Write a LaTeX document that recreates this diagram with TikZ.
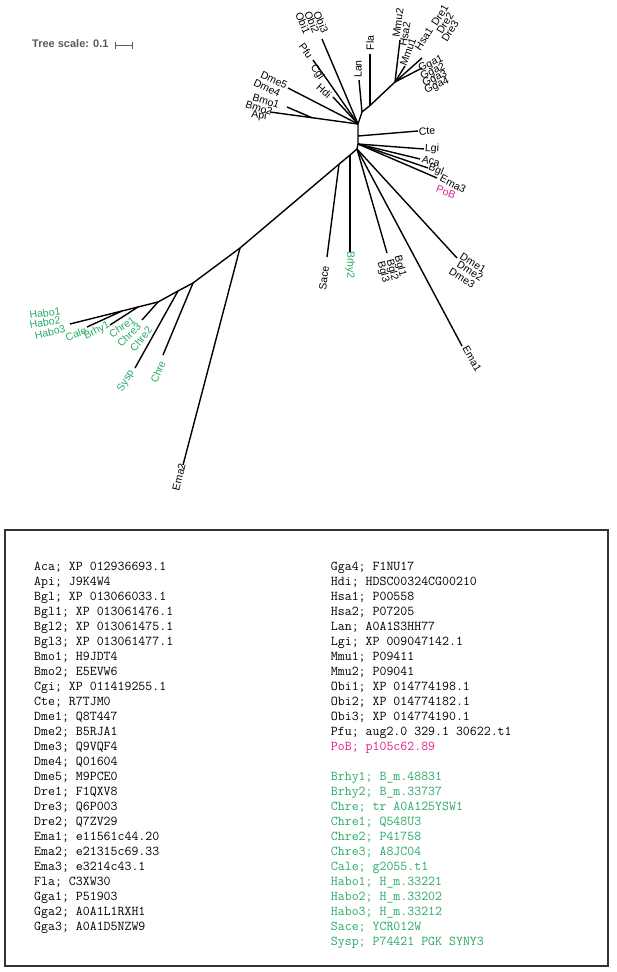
\documentclass[tikz,border=0pt]{standalone}
\usepackage{fontspec}
\newfontfamily\treefont{Liberation Sans}
\definecolor{treegreen}{RGB}{40,170,100}
\definecolor{pobpink}{RGB}{228,30,140}
\definecolor{scalegray}{RGB}{90,90,90}
\begin{document}
\begin{tikzpicture}[x=1pt,y=-1pt]
	\tikzset{branch/.style={line width=1.4pt, line join=round},
		lbl/.style={font=\treefont\fontsize{10.5}{10}\selectfont, inner sep=0pt},
		glbl/.style={lbl, text=treegreen},
		legtxt/.style={font=\ttfamily\fontsize{13.5}{15}\selectfont, inner sep=0pt, anchor=base west}}
	\useasboundingbox (0,0) rectangle (617,972);
	% tree scale
	\node[font=\treefont\bfseries\fontsize{11}{11}\selectfont, text=scalegray, anchor=west, inner sep=0pt] (scale) at (32,44) {Tree scale: 0.1};
	\coordinate (sbL) at (115,45.5);
	\coordinate (sbR) at (133,45.5);
	\draw[scalegray, line width=0.8pt, |-|] (sbL) -- (sbR);
	% inner nodes
	\coordinate (c1) at (358,124);
	\coordinate (cCte) at (358,136);
	\coordinate (c2) at (358,144);
	\coordinate (r) at (357,149);
	\coordinate (jBmo) at (312,117.7);
	\coordinate (jLan) at (362,112);
	\coordinate (jFla) at (370,105.5);
	\coordinate (v) at (395,82);
	\coordinate (jBrhy2) at (350,155);
	\coordinate (jSace) at (339,164.2);
	\coordinate (jEma2) at (240,248);
	\coordinate (jChre) at (193,283);
	\coordinate (jSysp) at (178,291);
	\coordinate (jHabo) at (158,302);
	\coordinate (jBrhy1) at (138,307);
	\coordinate (jCale) at (122,311);
	% leaf tips
	\coordinate (api) at (270,112);
	\coordinate (bmo) at (287,107);
	\coordinate (dme45) at (288,88);
	\coordinate (hdi) at (333,97);
	\coordinate (cgi) at (328,81);
	\coordinate (pfu) at (313,60);
	\coordinate (obi) at (322,39);
	\coordinate (lan) at (359,80);
	\coordinate (fla) at (370,54);
	\coordinate (mmu2) at (400,40);
	\coordinate (mmu1) at (405,66);
	\coordinate (hsa1) at (422,58);
	\coordinate (gga) at (422,68);
	\coordinate (cte) at (418,131);
	\coordinate (lgi) at (424,149);
	\coordinate (aca) at (420,159);
	\coordinate (bgl) at (428,168);
	\coordinate (ema3) at (437,178);
	\coordinate (sace) at (327,257);
	\coordinate (brhy2) at (350,252);
	\coordinate (bgl123) at (387,253);
	\coordinate (ema1) at (462,346);
	\coordinate (dme123) at (457,258);
	\coordinate (ema2) at (183,465);
	\coordinate (chre) at (163,355);
	\coordinate (sysp) at (135,368);
	\coordinate (chre123) at (142,320);
	\coordinate (brhy1) at (110,325);
	\coordinate (cale) at (87,327);
	\coordinate (habo) at (70,324);
	% branches
	\draw[branch] (api) -- (jBmo) -- (c1);
	\draw[branch] (bmo) -- (jBmo);
	\draw[branch] (dme45) -- (c1);
	\draw[branch] (hdi) -- (c1);
	\draw[branch] (pfu) -- (cgi) -- (c1);
	\draw[branch] (obi) -- (c1);
	\draw[branch] (lan) -- (jLan) -- (c1);
	\draw[branch] (fla) -- (jFla);
	\draw[branch] (v) -- (jFla) -- (jLan);
	\draw[branch] (v) -- (mmu2);
	\draw[branch] (v) -- (mmu1);
	\draw[branch] (v) -- (hsa1);
	\draw[branch] (v) -- (gga);
	\draw[branch] (c1) -- (cCte) -- (c2) -- (r);
	\draw[branch] (cCte) -- (cte);
	\draw[branch] (c2) -- (lgi);
	\draw[branch] (c2) -- (aca);
	\draw[branch] (c2) -- (bgl);
	\draw[branch] (c2) -- (ema3);
	\draw[branch] (r) -- (jBrhy2) -- (jSace) -- (jEma2) -- (jChre) -- (jSysp) -- (jHabo) -- (jBrhy1) -- (jCale) -- (habo);
	\draw[branch] (jSace) -- (sace);
	\draw[branch] (jBrhy2) -- (brhy2);
	\draw[branch] (r) -- (bgl123);
	\draw[branch] (r) -- (ema1);
	\draw[branch] (r) -- (dme123);
	\draw[branch] (jEma2) -- (ema2);
	\draw[branch] (jChre) -- (chre);
	\draw[branch] (jSysp) -- (sysp);
	\draw[branch] (jHabo) -- (chre123);
	\draw[branch] (jBrhy1) -- (brhy1);
	\draw[branch] (jCale) -- (cale);
	% leaf labels
	\node[lbl, rotate=-6] (lApi) at (259,116) {Api};
	\node[lbl, rotate=-18] (lBmo1) at (266,101) {Bmo1};
	\node[lbl, rotate=-18] (lBmo2) at (259,108) {Bmo2};
	\node[lbl, rotate=-25] (lDme5) at (274,80) {Dme5};
	\node[lbl, rotate=-25] (lDme4) at (267,88) {Dme4};
	\node[lbl, rotate=-42] (lHdi) at (324,91) {Hdi};
	\node[lbl, rotate=-55] (lCgi) at (317,72) {Cgi};
	\node[lbl, rotate=-55] (lPfu) at (306,51) {Pfu};
	\node[lbl, rotate=-67] (lObi1) at (303,23) {Obi1};
	\node[lbl, rotate=-67] (lObi2) at (312,22) {Obi2};
	\node[lbl, rotate=-67] (lObi3) at (321,22) {Obi3};
	\node[lbl, rotate=90] (lLan) at (358,69) {Lan};
	\node[lbl, rotate=90] (lFla) at (370,43) {Fla};
	\node[lbl, rotate=82] (lMmu2) at (398,23) {Mmu2};
	\node[lbl, rotate=80] (lHsa2) at (405,34) {Hsa2};
	\node[lbl, rotate=70] (lMmu1) at (408,52) {Mmu1};
	\node[lbl, rotate=57] (lHsa1) at (424,39) {Hsa1};
	\node[lbl, rotate=58] (lDre1) at (440,15) {Dre1};
	\node[lbl, rotate=58] (lDre2) at (445,23) {Dre2};
	\node[lbl, rotate=58] (lDre3) at (450,31) {Dre3};
	\node[lbl, rotate=25] (lGga1) at (431,64) {Gga1};
	\node[lbl, rotate=25] (lGga2) at (433,72) {Gga2};
	\node[lbl, rotate=25] (lGga3) at (435,79) {Gga3};
	\node[lbl, rotate=25] (lGga4) at (437,86) {Gga4};
	\node[lbl, rotate=4] (lCte) at (427,131) {Cte};
	\node[lbl, rotate=-3] (lLgi) at (432,149) {Lgi};
	\node[lbl, rotate=-15] (lAca) at (431,161) {Aca};
	\node[lbl, rotate=-22] (lBgl) at (436,170) {Bgl};
	\node[lbl, rotate=-27] (lEma3) at (453,184) {Ema3};
	\node[lbl, rotate=-22, text=pobpink] (lPoB) at (446,192) {PoB};
	\node[lbl, rotate=83] (lSace) at (324,278) {Sace};
	\node[glbl, rotate=-90] (lBrhy2) at (350,265) {Brhy2};
	\node[lbl, rotate=-75] (lBgl1) at (400,266) {Bgl1};
	\node[lbl, rotate=-75] (lBgl2) at (392,270) {Bgl2};
	\node[lbl, rotate=-75] (lBgl3) at (383,272) {Bgl3};
	\node[lbl, rotate=-32] (lDme1) at (473,263) {Dme1};
	\node[lbl, rotate=-32] (lDme2) at (470,271) {Dme2};
	\node[lbl, rotate=-32] (lDme3) at (462,278) {Dme3};
	\node[lbl, rotate=-60] (lEma1) at (472,359) {Ema1};
	\node[lbl, rotate=76] (lEma2) at (179,477) {Ema2};
	\node[glbl, rotate=68] (lChre) at (158,372) {Chre};
	\node[glbl, rotate=60] (lSysp) at (126,381) {Sysp};
	\node[glbl, rotate=52] (lChre2) at (141,339) {Chre2};
	\node[glbl, rotate=45] (lChre3) at (129,335) {Chre3};
	\node[glbl, rotate=35] (lChre1) at (122,327) {Chre1};
	\node[glbl, rotate=28] (lBrhy1) at (97,331) {Brhy1};
	\node[glbl, rotate=20] (lCale) at (76,334) {Cale};
	\node[glbl, rotate=8] (lHabo1) at (45,313) {Habo1};
	\node[glbl, rotate=10] (lHabo2) at (45,322) {Habo2};
	\node[glbl, rotate=13] (lHabo3) at (50,332) {Habo3};
	% legend
	\draw[line width=1.3pt, black!80] (5,530) rectangle (608,966);
	\foreach \txt [count=\i from 0] in {Aca; XP 012936693.1, Api; J9K4W4, Bgl; XP 013066033.1,
		Bgl1; XP 013061476.1, Bgl2; XP 013061475.1, Bgl3; XP 013061477.1, Bmo1; H9JDT4,
		Bmo2; E5EVW6, Cgi; XP 011419255.1, Cte; R7TJM0, Dme1; Q8T447, Dme2; B5RJA1,
		Dme3; Q9VQF4, Dme4; Q01604, Dme5; M9PCE0, Dre1; F1QXV8, Dre3; Q6P003, Dre2; Q7ZV29,
		Ema1; e11561c44.20, Ema2; e21315c69.33, Ema3; e3214c43.1, Fla; C3XW30,
		Gga1; P51903, Gga2; A0A1L1RXH1, Gga3; A0A1D5NZW9}
		\node[legtxt] (legL\i) at (34,{570.8+15*\i}) {\txt};
	\foreach \txt [count=\i from 0] in {Gga4; F1NU17, Hdi; HDSC00324CG00210, Hsa1; P00558,
		Hsa2; P07205, Lan; A0A1S3HH77, Lgi; XP 009047142.1, Mmu1; P09411, Mmu2; P09041,
		Obi1; XP 014774198.1, Obi2; XP 014774182.1, Obi3; XP 014774190.1,
		Pfu; aug2.0 329.1 30622.t1}
		\node[legtxt] (legR\i) at (330.7,{570.8+15*\i}) {\txt};
	\node[legtxt, text=pobpink] (legPoB) at (330.7,750.8) {PoB; p105c62.89};
	\foreach \txt [count=\i from 14] in {Brhy1; B\_m.48831, Brhy2; B\_m.33737,
		Chre; tr A0A125YSW1, Chre1; Q548U3, Chre2; P41758, Chre3; A8JC04, Cale; g2055.t1,
		Habo1; H\_m.33221, Habo2; H\_m.33202, Habo3; H\_m.33212, Sace; YCR012W,
		Sysp; P74421 PGK SYNY3}
		\node[legtxt, text=treegreen] (legG\i) at (330.7,{570.8+15*\i}) {\txt};
\end{tikzpicture}
\end{document}
